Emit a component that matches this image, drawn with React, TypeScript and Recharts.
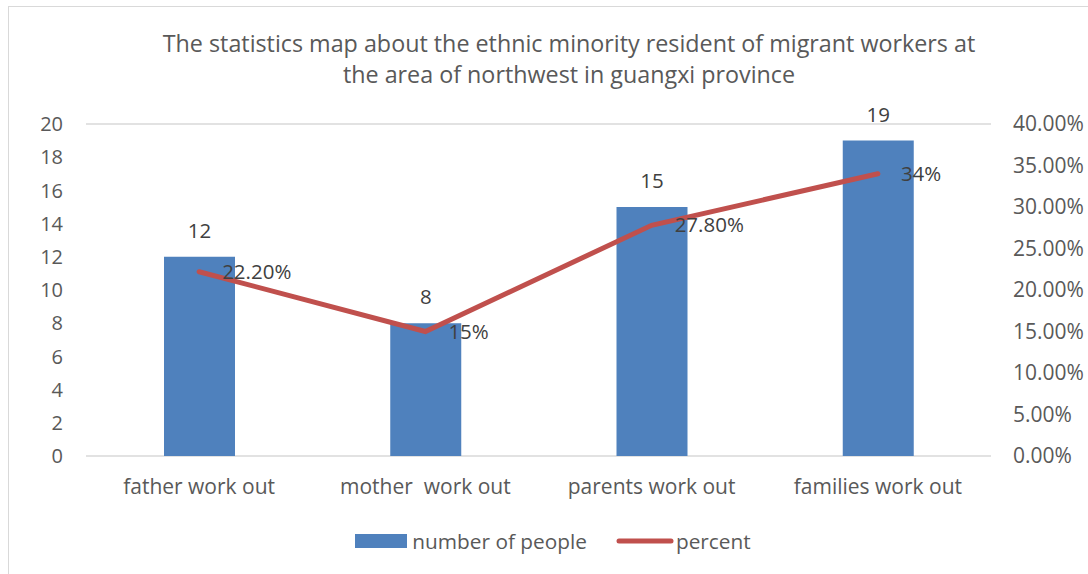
import React from 'react';
import { ComposedChart, Bar, Line, XAxis, YAxis, CartesianGrid, LabelList, Legend } from 'recharts';

const categories = ['father work out', 'mother\u00A0 work out', 'parents work out', 'families work out'];
const peopleValues = [12, 8, 15, 19];
const percentValues = [22.2, 15, 27.8, 34];
const percentLabels = ['22.20%', '15%', '27.80%', '34%'];
const leftTicks = [0, 2, 4, 6, 8, 10, 12, 14, 16, 18, 20];
const rightTicks = [0, 5, 10, 15, 20, 25, 30, 35, 40];
const titleLines = [
  'The statistics map about the ethnic minority resident of migrant workers at',
  'the area of northwest in guangxi province',
];

const data = categories.map((c, i) => ({
  name: c,
  people: peopleValues[i],
  percent: percentValues[i],
  pLabel: percentLabels[i],
}));

const FONT = '"Open Sans", sans-serif';
const BLUE = '#4F81BD';
const RED = '#C0504D';

const PercentLabel = (props: any) => {
  const { x, y, index } = props;
  return (
    <text x={x + 23} y={y} dy="0.35em" textAnchor="start" fill="#404040" fontSize={20.5} fontFamily={FONT}>
      {percentLabels[index]}
    </text>
  );
};

const LegendContent = () => (
  <div style={{ display: 'flex', justifyContent: 'center', alignItems: 'center', height: 40, fontFamily: FONT, fontSize: 20.8, color: '#595959' }}>
    <div style={{ display: 'flex', alignItems: 'center', marginLeft: 0 }}>
      <div style={{ width: 52, height: 14, background: BLUE, marginRight: 5 }} />
      <span>number of people</span>
    </div>
    <div style={{ display: 'flex', alignItems: 'center', marginLeft: 29 }}>
      <svg width={58} height={10} style={{ marginRight: 2 }}>
        <line x1={3} y1={5} x2={55} y2={5} stroke={RED} strokeWidth={5} strokeLinecap="round" />
      </svg>
      <span>percent</span>
    </div>
  </div>
);

export default function App() {
  return (
    <div style={{ position: 'absolute', left: 8, top: 6, width: 1090, height: 570, border: '1px solid #D9D9D9', boxSizing: 'border-box', background: '#fff' }}>
      <div style={{ position: 'absolute', left: 0, top: 21, width: 1120, textAlign: 'center', fontFamily: FONT, fontSize: 23.3, lineHeight: '31px', color: '#595959' }}>
        {titleLines.map((l, i) => (
          <div key={i}>{l}</div>
        ))}
      </div>
      <ComposedChart
        width={1088}
        height={566}
        data={data}
        margin={{ top: 117, right: 0, bottom: 12, left: 0 }}
        style={{ position: 'absolute', left: 0, top: 0 }}
      >
        <CartesianGrid vertical={false} stroke="#D9D9D9" strokeWidth={1.5} />
        <XAxis
          dataKey="name"
          axisLine={false}
          tickLine={false}
          height={65}
          tickMargin={17}
          tick={{ fill: '#595959', fontSize: 21, fontFamily: FONT }}
        />
        <YAxis
          yAxisId="left"
          orientation="left"
          domain={[0, 20]}
          ticks={leftTicks}
          width={77}
          axisLine={false}
          tickLine={false}
          tickMargin={17}
          tick={{ fill: '#595959', fontSize: 20, fontFamily: FONT }}
        />
        <YAxis
          yAxisId="right"
          orientation="right"
          domain={[0, 40]}
          ticks={rightTicks}
          width={106}
          axisLine={false}
          tickLine={false}
          tickMargin={16}
          tickFormatter={(v: number) => v.toFixed(2) + '%'}
          tick={{ fill: '#595959', fontSize: 21, fontFamily: FONT }}
        />
        <Legend verticalAlign="bottom" height={40} content={<LegendContent />} />
        <Bar yAxisId="left" dataKey="people" name="number of people" fill={BLUE} barSize={71} isAnimationActive={false}>
          <LabelList dataKey="people" position="top" offset={19} fill="#404040" fontSize={20.5} fontFamily={FONT} />
        </Bar>
        <Line
          yAxisId="right"
          dataKey="percent"
          name="percent"
          type="linear"
          stroke={RED}
          strokeWidth={5}
          strokeLinecap="round"
          dot={false}
          activeDot={false}
          isAnimationActive={false}
        >
          <LabelList dataKey="pLabel" content={<PercentLabel />} />
        </Line>
      </ComposedChart>
    </div>
  );
}
